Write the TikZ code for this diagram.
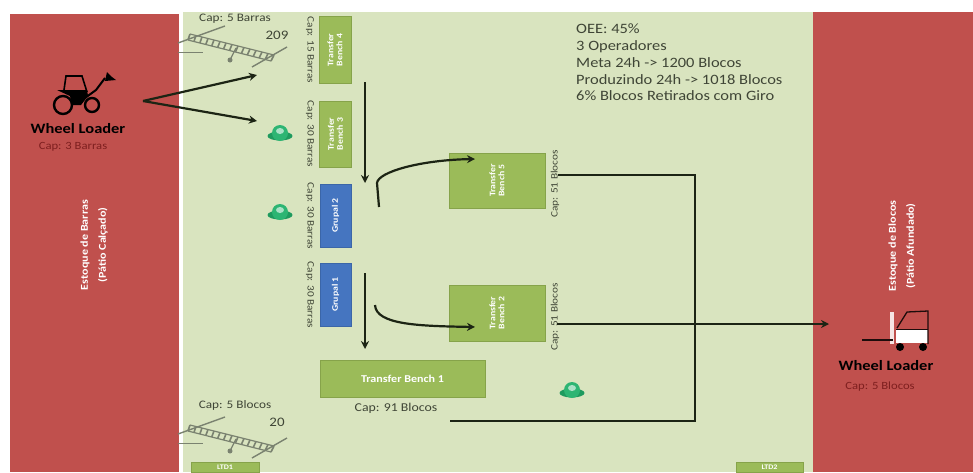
\documentclass[tikz,border=0pt]{standalone}
\usepackage{fontspec}
\setmainfont{Carlito}[FakeStretch=1.15]
\usetikzlibrary{arrows.meta, calc}
\definecolor{cStock}   {HTML}{C0504D}
\definecolor{cYard}    {HTML}{D9E4BF}
\definecolor{cBench}   {HTML}{9BBB59}
\definecolor{cBenchEdge}{HTML}{86A34A}
\definecolor{cQuad}    {HTML}{4575C0}
\definecolor{cQuadEdge}{HTML}{3B66A8}
\definecolor{cInk}     {HTML}{3F4536}
\definecolor{cFlow}    {HTML}{1C2414}
\definecolor{cRack}    {HTML}{7A8270}
\definecolor{cHelmet}  {HTML}{2DB573}
\definecolor{cHelmetDk}{HTML}{1E9A5E}
\definecolor{cCapRed}  {HTML}{7E1F1F}
\tikzset{
  benchbox/.style={draw=cBenchEdge, line width=0.8pt, fill=cBench, text=white,
    font=\bfseries\fontsize{8.5}{10}\selectfont, align=center, inner sep=0pt},
  quadbox/.style={benchbox, draw=cQuadEdge, fill=cQuad},
  caplabel/.style={text=cInk, font=\fontsize{11.5}{13}\selectfont, inner sep=0pt},
  capside/.style={caplabel, font=\fontsize{9.8}{12}\selectfont},
  stocklabel/.style={text=white, font=\bfseries\fontsize{10.5}{18}\selectfont, align=center, rotate=90, inner sep=0pt},
  flowline/.style={draw=cFlow, line width=2.2pt, -{Stealth[length=8pt,width=8pt]}},
  plainline/.style={draw=cFlow, line width=2.2pt, line join=miter},
}
\begin{document}
\begin{tikzpicture}[x=1pt, y=-1pt]
  \useasboundingbox (0,0) rectangle (973,472);
  \fill[white] (0,0) rectangle (973,472);
  \fill[cStock] (10,14) rectangle (179,472);
  \fill[cYard] (183,12) rectangle (813,472);
  \fill[cStock] (813,12) rectangle (973,472);

  % racks
  \foreach \dy in {0,391}{
    \begin{scope}[shift={(0,\dy)}, cRack]
      \draw[line width=1.4pt] (225,26) -- (178,43);
      \draw[line width=1.4pt] (287,47) -- (252,67);
      \draw[line width=0.5pt] (178,52) -- (203,52);
      \draw[line width=1.2pt] (190,34) -- (274,55);
      \draw[line width=1.2pt] (188,40) -- (271,61);
      \foreach \k in {0,1,...,14}{
        \draw[line width=1.6pt] ($(190,34)!\k/14!(274,55)$) -- ($(188,40)!\k/14!(271,61)$);
      }
      \fill (230,60) circle (2.5);
      \draw[line width=1.2pt] (230,60) -- (236,48);
    \end{scope}
  }

  % benches
  \node[benchbox, minimum width=32, minimum height=67] (benchFour) at (335,50) {\rotatebox{90}{\shortstack{Transfer\\Bench 4}}};
  \node[benchbox, minimum width=32, minimum height=66] (benchThree) at (335.5,134) {\rotatebox{90}{\shortstack{Transfer\\Bench 3}}};
  \node[quadbox, minimum width=31, minimum height=63] (quadTwo) at (335.5,215.5) {\rotatebox{90}{Grupal 2}};
  \node[quadbox, minimum width=31, minimum height=63] (quadOne) at (335.5,294.5) {\rotatebox{90}{Grupal 1}};
  \node[benchbox, minimum width=96, minimum height=55] (benchFive) at (497,180.5) {\rotatebox{90}{\shortstack{Transfer\\Bench 5}}};
  \node[benchbox, minimum width=96, minimum height=56] (benchTwo) at (497,313) {\rotatebox{90}{\shortstack{Transfer\\Bench 2}}};
  \node[benchbox, minimum width=165, minimum height=37, font=\bfseries\fontsize{10.5}{12}\selectfont] (benchOne) at (402.5,378.5) {Transfer Bench 1};
  \node[benchbox, minimum width=68, minimum height=10, font=\bfseries\fontsize{7}{7}\selectfont] (ltdOne) at (225,467) {LTD1};
  \node[benchbox, minimum width=67, minimum height=10, font=\bfseries\fontsize{7}{7}\selectfont] (ltdTwo) at (769.5,467) {LTD2};

  % capacity
  \node[capside, rotate=-90] (capFour) at (310,50) {Cap: 15 Barras};
  \node[capside, rotate=-90] (capThree) at (310,134) {Cap: 30 Barras};
  \node[capside, rotate=-90] (capQuadTwo) at (310,216) {Cap: 30 Barras};
  \node[capside, rotate=-90] (capQuadOne) at (310,295) {Cap: 30 Barras};
  \node[capside, rotate=90] (capFive) at (555,184) {Cap: 51 Blocos};
  \node[capside, rotate=90] (capTwo) at (555,317) {Cap: 51 Blocos};
  \node[caplabel, font=\fontsize{12}{13}\selectfont] (capOne) at (396,408) {Cap: 91 Blocos};
  \node[caplabel] (capRackTop) at (235,19) {Cap: 5 Barras};
  \node[caplabel] (capRackLow) at (235,405) {Cap: 5 Blocos};
  \node[text=cInk, font=\fontsize{13}{13}\selectfont, inner sep=0pt] (countTop) at (277,35) {209};
  \node[text=cInk, font=\fontsize{13}{13}\selectfont, inner sep=0pt] (countLow) at (277,422) {20};

  % notes
  \node[anchor=north west, text=cInk, align=left, inner sep=0pt,
    font=\fontsize{14.3}{16.7}\selectfont] (notes) at (576,24)
    {OEE: 45\%\\3 Operadores\\Meta 24h -> 1200 Blocos\\Produzindo 24h -> 1018 Blocos\\6\% Blocos Retirados com Giro};

  \node[stocklabel] (stockBars) at (94,245) {Estoque de Barras\\(Pátio Calçado)};
  \node[stocklabel] (stockBlocks) at (902,246) {Estoque de Blocos\\(Pátio Afundado)};

  % tractor
  \draw[black, line width=2.4pt] (63,105) circle (9);
  \draw[black, line width=2.4pt] (92,105) circle (7);
  \draw[black, line width=1.6pt] (64,90) -- (66,76) -- (82,76) -- (87,92);
  \fill[black] (57,90) -- (87,90) -- (88,96) -- (81,105) -- (72,105) -- (70,96) -- cycle;
  \draw[black, line width=2pt] (85,98) -- (96,90) -- (105,78);
  \fill[black] (105,81) -- (107,72) -- (112,77) -- (116,80) -- cycle;
  \node[font=\bfseries\fontsize{14.3}{16}\selectfont, text=black, inner sep=0pt] (loaderBars) at (78,129) {Wheel Loader};
  \node[font=\fontsize{11}{12}\selectfont, text=cCapRed, inner sep=0pt] (capLoaderBars) at (73,147) {Cap: 3 Barras};

  % forklift
  \fill[white] (896,329) rectangle (928,343);
  \fill[white!85!cStock] (890,312) rectangle (894,344);
  \draw[black!85!cStock, line width=1.3pt] (897,328) -- (907,312) -- (928,311) -- (928,344);
  \draw[black!85!cStock, line width=1.3pt] (862,340) -- (893,340);
  \draw[black!85!cStock, line width=0.8pt] (896,329) -- (928,329);
  \fill[black] (900,347) circle (4);
  \fill[black] (923,347) circle (4);
  \node[font=\bfseries\fontsize{14.3}{16}\selectfont, text=black, inner sep=0pt] (loaderBlocks) at (886,366) {Wheel Loader};
  \node[font=\fontsize{11}{12}\selectfont, text=cCapRed, inner sep=0pt] (capLoaderBlocks) at (880,387) {Cap: 5 Blocos};

  % operators
  \foreach \px/\py in {280/133, 280/212, 572/390}{
    \fill[cHelmetDk] (\px,\py+3) ellipse (12.5 and 4.5);
    \fill[cHelmet] (\px,\py) circle (8);
    \fill[white!60!cHelmet] (\px,\py-2) ellipse (4 and 3);
  }

  % flows
  \coordinate (loaderOut) at (143,101);
  \coordinate (rackIn) at (257,75);
  \coordinate (benchIn) at (257,121);
  \coordinate (lineOneTop) at (365,82);
  \coordinate (lineOneEnd) at (365,183);
  \coordinate (lineTwoTop) at (365,273);
  \coordinate (lineTwoEnd) at (365,349);
  \coordinate (curveOneStart) at (379,207);
  \coordinate (curveOneEnd) at (475,159);
  \coordinate (curveTwoStart) at (375,305);
  \coordinate (curveTwoEnd) at (475,327);
  \coordinate (fiveOut) at (558,175);
  \coordinate (twoOut) at (557,324);
  \coordinate (yardCorner) at (695,421);
  \coordinate (yardEnd) at (450,421);
  \coordinate (stockIn) at (829,324);

  \draw[flowline] (loaderOut) -- (rackIn);
  \draw[flowline] (loaderOut) -- (benchIn);
  \draw[flowline] (lineOneTop) -- (lineOneEnd);
  \draw[flowline] (lineTwoTop) -- (lineTwoEnd);
  \draw[flowline] (curveOneStart) -- (377,183) .. controls (378,172) and (420,160) .. (curveOneEnd);
  \draw[flowline] (curveTwoStart) .. controls (376,325) and (420,326) .. (curveTwoEnd);
  \draw[plainline] (fiveOut) -| (yardCorner) -- (yardEnd);
  \draw[flowline, line width=1.8pt] (twoOut) -- (stockIn);
\end{tikzpicture}
\end{document}
